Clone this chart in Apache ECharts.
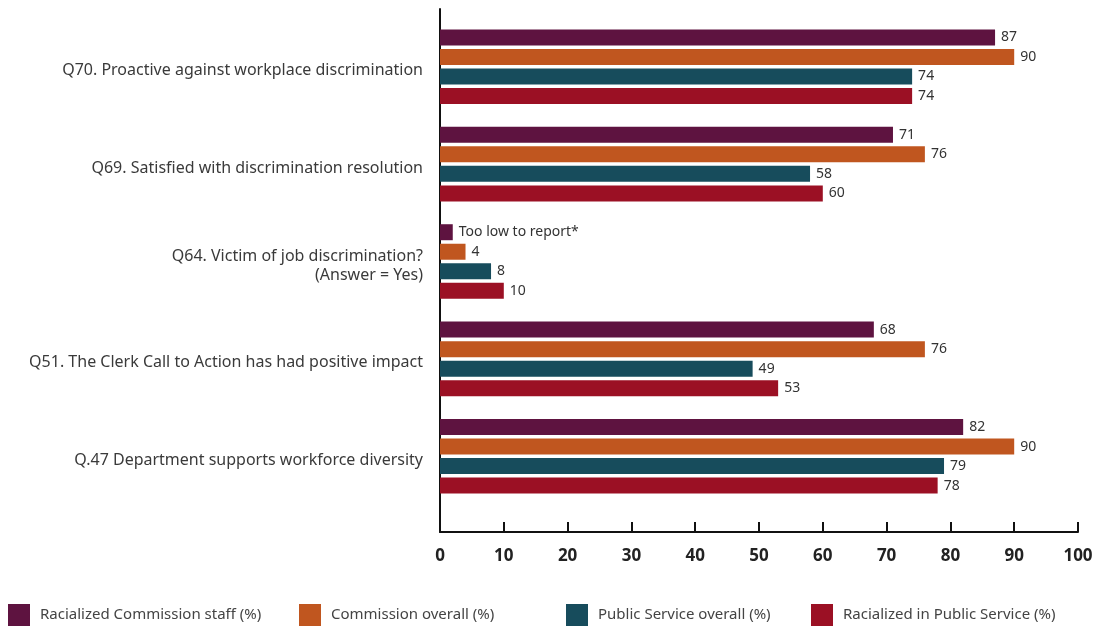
<!DOCTYPE html>
<html>
<head>
<meta charset="utf-8">
<style>
  html, body { margin: 0; padding: 0; background: #fff; }
  #chart { width: 1104px; height: 629px; }
</style>
<script src="https://cdn.jsdelivr.net/npm/echarts@6/dist/echarts.min.js"></script>
</head>
<body>
<div id="chart"></div>
<script>
// Survey questions, listed top to bottom
const questions = [
  'Q70. Proactive against workplace discrimination',
  'Q69. Satisfied with discrimination resolution',
  'Q64. Victim of job discrimination?\n(Answer = Yes)',
  'Q51. The Clerk Call to Action has had positive impact',
  'Q.47 Department supports workforce diversity'
];

// Percentages per group
const racializedStaff = [87, 71, 2, 68, 82];
const commissionOverall = [90, 76, 4, 76, 90];
const publicServiceOverall = [74, 58, 8, 49, 79];
const racializedPublicService = [74, 60, 10, 53, 78];

// Text shown in place of a number where the count is suppressed
const staffNotes = ['', '', 'Too low to report*', '', ''];

const seriesNames = [
  'Racialized Commission staff (%)',
  'Commission overall (%)',
  'Public Service overall (%)',
  'Racialized in Public Service (%)'
];
const colors = ['#5e1340', '#c0561f', '#174c5c', '#9b1024'];

// Value-axis ticks
const xMin = 0, xMax = 100, xStep = 10;

const FONT = 'Noto Sans';

const chart = echarts.init(document.getElementById('chart'), null, { renderer: 'canvas' });

const seriesData = [racializedStaff, commissionOverall, publicServiceOverall, racializedPublicService];

const series = seriesData.map((values, i) => ({
  name: seriesNames[i],
  type: 'bar',
  xAxisIndex: 0,
  yAxisIndex: 0,
  data: values,
  barWidth: 16,
  barGap: '22%',
  itemStyle: { color: colors[i] },
  label: {
    show: true,
    position: 'right',
    distance: 6,
    fontFamily: FONT,
    fontSize: 14,
    color: '#333',
    formatter: i === 0 ? (p => staffNotes[p.dataIndex] || p.value) : '{c}'
  }
}));

// Legend entries placed individually along the bottom
const legendLefts = [3, 294, 561, 806];
const legends = seriesNames.map((n, i) => ({
  data: [n],
  left: legendLefts[i],
  top: 599,
  itemWidth: 22,
  itemHeight: 22,
  icon: 'rect',
  textStyle: { fontFamily: FONT, fontSize: 15, color: '#444', padding: [0, 0, 0, 5] }
}));

chart.setOption({
  animation: false,
  backgroundColor: '#fff',
  legend: legends,
  grid: [
    // bars
    { left: 440, right: 26, top: 18, height: 487, containLabel: false },
    // axis frame
    { left: 440, right: 26, top: 9, bottom: 97, containLabel: false },
    // question labels, sitting slightly below the bar groups
    { left: 440, right: 26, top: 22, height: 487, containLabel: false }
  ],
  xAxis: [
    {
      gridIndex: 0, type: 'value', min: xMin, max: xMax, interval: xStep,
      show: false
    },
    {
      gridIndex: 1, type: 'value', min: xMin, max: xMax, interval: xStep,
      axisLine: { show: true, lineStyle: { color: '#111', width: 2 } },
      axisTick: { show: true, inside: true, length: 10, lineStyle: { color: '#111', width: 2 } },
      splitLine: { show: false },
      axisLabel: { margin: 16, fontFamily: FONT, fontSize: 17, fontWeight: 'bold', color: '#222' }
    },
    {
      gridIndex: 2, type: 'value', min: xMin, max: xMax, interval: xStep,
      show: false
    }
  ],
  yAxis: [
    {
      gridIndex: 0, type: 'category', data: questions, inverse: true,
      axisLine: { show: false },
      axisTick: { show: false },
      axisLabel: { show: false }
    },
    {
      gridIndex: 1, type: 'value', min: 0, max: 1,
      axisLine: { show: true, lineStyle: { color: '#111', width: 2 } },
      axisTick: { show: false },
      axisLabel: { show: false },
      splitLine: { show: false }
    },
    {
      gridIndex: 2, type: 'category', data: questions, inverse: true,
      axisLine: { show: false },
      axisTick: { show: false },
      axisLabel: {
        margin: 17, fontFamily: FONT, fontSize: 16, color: '#3a3a3a',
        align: 'right', lineHeight: 19
      }
    }
  ],
  series: series
});
</script>
</body>
</html>
